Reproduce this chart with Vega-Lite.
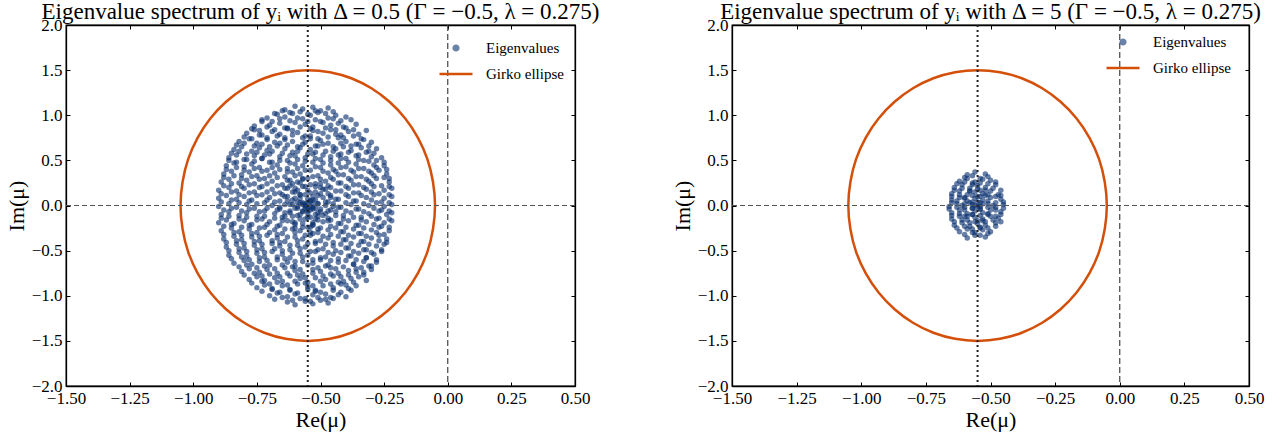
{
"$schema": "https://vega.github.io/schema/vega-lite/v6.json",
"background": "white",
"padding": {"left": 4, "top": 0, "right": 5, "bottom": 2},
"spacing": 69,
"resolve": {"scale": {"color": "independent", "x": "independent", "y": "independent"}, "legend": {"color": "independent"}},
"config": {
  "font": "Liberation Serif",
  "view": {"stroke": "black", "strokeWidth": 1.3},
  "title": {"font": "Liberation Serif", "fontSize": 23, "fontWeight": "normal", "color": "black", "anchor": "middle", "frame": "group"},
  "axis": {"labelFont": "Liberation Serif", "labelFontSize": 17, "titleFont": "Liberation Serif", "titleFontSize": 22, "titleFontWeight": "normal", "labelColor": "black", "titleColor": "black", "domainColor": "black", "tickColor": "black", "domainWidth": 1.3, "tickWidth": 1, "tickSize": -4, "grid": false, "labelPadding": 8, "labelFlush": false, "labelOverlap": false, "titlePadding": 3},
  "legend": {"labelFont": "Liberation Serif", "labelFontSize": 15, "labelColor": "black", "symbolSize": 1089, "labelOffset": 12, "rowPadding": -10, "padding": 0, "offset": 14, "orient": "top-right", "title": null}
},
"datasets": {
"ell": [{"i":0,"x":-0.05,"y":0},{"i":1,"x":-0.058,"y":0.26},{"i":2,"x":-0.08,"y":0.513},{"i":3,"x":-0.117,"y":0.75},{"i":4,"x":-0.167,"y":0.964},{"i":5,"x":-0.229,"y":1.149},{"i":6,"x":-0.3,"y":1.299},{"i":7,"x":-0.379,"y":1.41},{"i":8,"x":-0.463,"y":1.477},{"i":9,"x":-0.55,"y":1.5},{"i":10,"x":-0.637,"y":1.477},{"i":11,"x":-0.721,"y":1.41},{"i":12,"x":-0.8,"y":1.299},{"i":13,"x":-0.871,"y":1.149},{"i":14,"x":-0.933,"y":0.964},{"i":15,"x":-0.983,"y":0.75},{"i":16,"x":-1.02,"y":0.513},{"i":17,"x":-1.042,"y":0.26},{"i":18,"x":-1.05,"y":0},{"i":19,"x":-1.042,"y":-0.26},{"i":20,"x":-1.02,"y":-0.513},{"i":21,"x":-0.983,"y":-0.75},{"i":22,"x":-0.933,"y":-0.964},{"i":23,"x":-0.871,"y":-1.149},{"i":24,"x":-0.8,"y":-1.299},{"i":25,"x":-0.721,"y":-1.41},{"i":26,"x":-0.637,"y":-1.477},{"i":27,"x":-0.55,"y":-1.5},{"i":28,"x":-0.463,"y":-1.477},{"i":29,"x":-0.379,"y":-1.41},{"i":30,"x":-0.3,"y":-1.299},{"i":31,"x":-0.229,"y":-1.149},{"i":32,"x":-0.167,"y":-0.964},{"i":33,"x":-0.117,"y":-0.75},{"i":34,"x":-0.08,"y":-0.513},{"i":35,"x":-0.058,"y":-0.26}],
"left": [
{"x":-0.64,"y":1.06},{"x":-0.60,"y":1.10},{"x":-0.57,"y":1.07},{"x":-0.53,"y":1.09},{"x":-0.50,"y":1.05},{"x":-0.47,"y":1.08},
{"x":-0.71,"y":0.97},{"x":-0.67,"y":1.01},{"x":-0.64,"y":0.98},{"x":-0.61,"y":1.02},{"x":-0.57,"y":0.96},{"x":-0.54,"y":1.00},{"x":-0.51,"y":1.03},{"x":-0.47,"y":0.97},{"x":-0.44,"y":1.00},{"x":-0.40,"y":0.98},
{"x":-0.76,"y":0.88},{"x":-0.73,"y":0.93},{"x":-0.70,"y":0.89},{"x":-0.66,"y":0.91},{"x":-0.63,"y":0.86},{"x":-0.60,"y":0.92},{"x":-0.56,"y":0.90},{"x":-0.53,"y":0.87},{"x":-0.50,"y":0.93},{"x":-0.46,"y":0.89},{"x":-0.43,"y":0.91},{"x":-0.40,"y":0.86},{"x":-0.36,"y":0.90},
{"x":-0.79,"y":0.80},{"x":-0.76,"y":0.84},{"x":-0.73,"y":0.78},{"x":-0.69,"y":0.82},{"x":-0.66,"y":0.79},{"x":-0.63,"y":0.85},{"x":-0.59,"y":0.81},{"x":-0.56,"y":0.77},{"x":-0.53,"y":0.83},{"x":-0.49,"y":0.80},{"x":-0.46,"y":0.84},{"x":-0.42,"y":0.78},{"x":-0.39,"y":0.82},{"x":-0.35,"y":0.79},{"x":-0.32,"y":0.83},
{"x":-0.82,"y":0.71},{"x":-0.78,"y":0.74},{"x":-0.75,"y":0.69},{"x":-0.71,"y":0.73},{"x":-0.68,"y":0.70},{"x":-0.64,"y":0.75},{"x":-0.61,"y":0.71},{"x":-0.57,"y":0.68},{"x":-0.54,"y":0.74},{"x":-0.50,"y":0.72},{"x":-0.47,"y":0.69},{"x":-0.43,"y":0.75},{"x":-0.40,"y":0.71},{"x":-0.36,"y":0.68},{"x":-0.33,"y":0.73},{"x":-0.30,"y":0.70},
{"x":-0.84,"y":0.62},{"x":-0.81,"y":0.65},{"x":-0.77,"y":0.60},{"x":-0.74,"y":0.64},{"x":-0.71,"y":0.61},{"x":-0.67,"y":0.66},{"x":-0.64,"y":0.63},{"x":-0.61,"y":0.59},{"x":-0.58,"y":0.64},{"x":-0.54,"y":0.62},{"x":-0.51,"y":0.66},{"x":-0.48,"y":0.60},{"x":-0.44,"y":0.63},{"x":-0.41,"y":0.65},{"x":-0.38,"y":0.61},{"x":-0.34,"y":0.64},{"x":-0.31,"y":0.60},{"x":-0.28,"y":0.63},
{"x":-0.86,"y":0.53},{"x":-0.83,"y":0.56},{"x":-0.80,"y":0.51},{"x":-0.76,"y":0.55},{"x":-0.73,"y":0.52},{"x":-0.70,"y":0.57},{"x":-0.66,"y":0.54},{"x":-0.63,"y":0.50},{"x":-0.60,"y":0.55},{"x":-0.56,"y":0.53},{"x":-0.53,"y":0.57},{"x":-0.50,"y":0.51},{"x":-0.46,"y":0.54},{"x":-0.43,"y":0.56},{"x":-0.40,"y":0.52},{"x":-0.36,"y":0.55},{"x":-0.33,"y":0.50},{"x":-0.30,"y":0.54},{"x":-0.26,"y":0.53},
{"x":-0.87,"y":0.44},{"x":-0.84,"y":0.47},{"x":-0.80,"y":0.43},{"x":-0.77,"y":0.46},{"x":-0.74,"y":0.42},{"x":-0.70,"y":0.48},{"x":-0.67,"y":0.45},{"x":-0.63,"y":0.41},{"x":-0.60,"y":0.46},{"x":-0.57,"y":0.44},{"x":-0.53,"y":0.48},{"x":-0.50,"y":0.42},{"x":-0.46,"y":0.45},{"x":-0.43,"y":0.47},{"x":-0.40,"y":0.43},{"x":-0.36,"y":0.46},{"x":-0.33,"y":0.41},{"x":-0.29,"y":0.45},{"x":-0.25,"y":0.44},
{"x":-0.88,"y":0.35},{"x":-0.85,"y":0.38},{"x":-0.81,"y":0.34},{"x":-0.78,"y":0.37},{"x":-0.75,"y":0.33},{"x":-0.71,"y":0.39},{"x":-0.68,"y":0.36},{"x":-0.64,"y":0.32},{"x":-0.61,"y":0.37},{"x":-0.58,"y":0.35},{"x":-0.54,"y":0.39},{"x":-0.51,"y":0.33},{"x":-0.47,"y":0.36},{"x":-0.44,"y":0.38},{"x":-0.41,"y":0.34},{"x":-0.37,"y":0.37},{"x":-0.34,"y":0.32},{"x":-0.30,"y":0.36},{"x":-0.27,"y":0.39},{"x":-0.24,"y":0.35},
{"x":-0.89,"y":0.26},{"x":-0.86,"y":0.29},{"x":-0.82,"y":0.25},{"x":-0.79,"y":0.28},{"x":-0.76,"y":0.24},{"x":-0.72,"y":0.30},{"x":-0.69,"y":0.27},{"x":-0.65,"y":0.23},{"x":-0.62,"y":0.28},{"x":-0.59,"y":0.26},{"x":-0.55,"y":0.30},{"x":-0.52,"y":0.24},{"x":-0.48,"y":0.27},{"x":-0.45,"y":0.29},{"x":-0.42,"y":0.25},{"x":-0.38,"y":0.28},{"x":-0.35,"y":0.23},{"x":-0.31,"y":0.27},{"x":-0.28,"y":0.30},{"x":-0.23,"y":0.26},
{"x":-0.90,"y":0.17},{"x":-0.86,"y":0.20},{"x":-0.83,"y":0.16},{"x":-0.80,"y":0.19},{"x":-0.76,"y":0.15},{"x":-0.73,"y":0.21},{"x":-0.69,"y":0.18},{"x":-0.66,"y":0.14},{"x":-0.63,"y":0.19},{"x":-0.59,"y":0.17},{"x":-0.56,"y":0.21},{"x":-0.52,"y":0.15},{"x":-0.49,"y":0.18},{"x":-0.46,"y":0.20},{"x":-0.42,"y":0.16},{"x":-0.39,"y":0.19},{"x":-0.35,"y":0.14},{"x":-0.32,"y":0.18},{"x":-0.29,"y":0.21},{"x":-0.25,"y":0.17},{"x":-0.22,"y":0.19},
{"x":-0.90,"y":0.08},{"x":-0.87,"y":0.11},{"x":-0.83,"y":0.07},{"x":-0.80,"y":0.10},{"x":-0.77,"y":0.06},{"x":-0.73,"y":0.12},{"x":-0.70,"y":0.09},{"x":-0.66,"y":0.05},{"x":-0.63,"y":0.10},{"x":-0.60,"y":0.08},{"x":-0.56,"y":0.12},{"x":-0.53,"y":0.06},{"x":-0.49,"y":0.09},{"x":-0.46,"y":0.11},{"x":-0.43,"y":0.07},{"x":-0.39,"y":0.10},{"x":-0.36,"y":0.05},{"x":-0.32,"y":0.09},{"x":-0.29,"y":0.12},{"x":-0.25,"y":0.08},{"x":-0.22,"y":0.10},
{"x":-0.90,"y":-0.01},{"x":-0.86,"y":0.02},{"x":-0.83,"y":-0.02},{"x":-0.79,"y":0.01},{"x":-0.76,"y":-0.03},{"x":-0.72,"y":0.03},{"x":-0.69,"y":0.00},{"x":-0.66,"y":-0.04},{"x":-0.62,"y":0.01},{"x":-0.59,"y":-0.01},{"x":-0.55,"y":0.03},{"x":-0.52,"y":-0.03},{"x":-0.48,"y":0.00},{"x":-0.45,"y":0.02},{"x":-0.42,"y":-0.02},{"x":-0.38,"y":0.01},{"x":-0.35,"y":-0.04},{"x":-0.31,"y":0.00},{"x":-0.28,"y":0.03},{"x":-0.25,"y":-0.01},{"x":-0.22,"y":0.01},
{"x":-0.89,"y":-0.10},{"x":-0.86,"y":-0.07},{"x":-0.82,"y":-0.11},{"x":-0.79,"y":-0.08},{"x":-0.75,"y":-0.12},{"x":-0.72,"y":-0.06},{"x":-0.68,"y":-0.09},{"x":-0.65,"y":-0.13},{"x":-0.62,"y":-0.08},{"x":-0.58,"y":-0.10},{"x":-0.55,"y":-0.06},{"x":-0.51,"y":-0.12},{"x":-0.48,"y":-0.09},{"x":-0.44,"y":-0.07},{"x":-0.41,"y":-0.11},{"x":-0.38,"y":-0.08},{"x":-0.34,"y":-0.13},{"x":-0.31,"y":-0.09},{"x":-0.27,"y":-0.06},{"x":-0.24,"y":-0.10},{"x":-0.22,"y":-0.08},
{"x":-0.90,"y":-0.19},{"x":-0.87,"y":-0.16},{"x":-0.84,"y":-0.20},{"x":-0.80,"y":-0.17},{"x":-0.77,"y":-0.21},{"x":-0.73,"y":-0.15},{"x":-0.70,"y":-0.18},{"x":-0.66,"y":-0.22},{"x":-0.63,"y":-0.17},{"x":-0.60,"y":-0.19},{"x":-0.56,"y":-0.15},{"x":-0.53,"y":-0.21},{"x":-0.49,"y":-0.18},{"x":-0.46,"y":-0.16},{"x":-0.42,"y":-0.20},{"x":-0.39,"y":-0.17},{"x":-0.35,"y":-0.22},{"x":-0.32,"y":-0.18},{"x":-0.28,"y":-0.15},{"x":-0.25,"y":-0.19},{"x":-0.22,"y":-0.17},
{"x":-0.89,"y":-0.28},{"x":-0.85,"y":-0.25},{"x":-0.82,"y":-0.29},{"x":-0.78,"y":-0.26},{"x":-0.75,"y":-0.30},{"x":-0.72,"y":-0.24},{"x":-0.68,"y":-0.27},{"x":-0.65,"y":-0.31},{"x":-0.61,"y":-0.26},{"x":-0.58,"y":-0.28},{"x":-0.54,"y":-0.24},{"x":-0.51,"y":-0.30},{"x":-0.47,"y":-0.27},{"x":-0.44,"y":-0.25},{"x":-0.41,"y":-0.29},{"x":-0.37,"y":-0.26},{"x":-0.34,"y":-0.31},{"x":-0.30,"y":-0.27},{"x":-0.27,"y":-0.24},{"x":-0.23,"y":-0.28},
{"x":-0.88,"y":-0.37},{"x":-0.84,"y":-0.34},{"x":-0.81,"y":-0.38},{"x":-0.77,"y":-0.35},{"x":-0.74,"y":-0.39},{"x":-0.71,"y":-0.33},{"x":-0.67,"y":-0.36},{"x":-0.64,"y":-0.40},{"x":-0.60,"y":-0.35},{"x":-0.57,"y":-0.37},{"x":-0.54,"y":-0.33},{"x":-0.50,"y":-0.39},{"x":-0.47,"y":-0.36},{"x":-0.43,"y":-0.34},{"x":-0.40,"y":-0.38},{"x":-0.37,"y":-0.35},{"x":-0.33,"y":-0.40},{"x":-0.30,"y":-0.36},{"x":-0.27,"y":-0.33},{"x":-0.24,"y":-0.37},
{"x":-0.87,"y":-0.46},{"x":-0.83,"y":-0.43},{"x":-0.80,"y":-0.47},{"x":-0.76,"y":-0.44},{"x":-0.73,"y":-0.48},{"x":-0.69,"y":-0.42},{"x":-0.66,"y":-0.45},{"x":-0.62,"y":-0.49},{"x":-0.59,"y":-0.44},{"x":-0.56,"y":-0.46},{"x":-0.52,"y":-0.42},{"x":-0.49,"y":-0.48},{"x":-0.45,"y":-0.45},{"x":-0.42,"y":-0.43},{"x":-0.39,"y":-0.47},{"x":-0.35,"y":-0.44},{"x":-0.32,"y":-0.49},{"x":-0.28,"y":-0.45},{"x":-0.25,"y":-0.43},
{"x":-0.86,"y":-0.55},{"x":-0.82,"y":-0.52},{"x":-0.79,"y":-0.56},{"x":-0.75,"y":-0.53},{"x":-0.72,"y":-0.57},{"x":-0.69,"y":-0.51},{"x":-0.65,"y":-0.54},{"x":-0.62,"y":-0.58},{"x":-0.58,"y":-0.53},{"x":-0.55,"y":-0.55},{"x":-0.52,"y":-0.51},{"x":-0.48,"y":-0.57},{"x":-0.45,"y":-0.54},{"x":-0.42,"y":-0.52},{"x":-0.38,"y":-0.56},{"x":-0.35,"y":-0.53},{"x":-0.32,"y":-0.58},{"x":-0.29,"y":-0.54},{"x":-0.26,"y":-0.51},
{"x":-0.84,"y":-0.64},{"x":-0.80,"y":-0.61},{"x":-0.77,"y":-0.65},{"x":-0.74,"y":-0.62},{"x":-0.70,"y":-0.66},{"x":-0.67,"y":-0.60},{"x":-0.63,"y":-0.63},{"x":-0.60,"y":-0.67},{"x":-0.57,"y":-0.62},{"x":-0.53,"y":-0.64},{"x":-0.50,"y":-0.60},{"x":-0.47,"y":-0.66},{"x":-0.43,"y":-0.63},{"x":-0.40,"y":-0.61},{"x":-0.37,"y":-0.65},{"x":-0.33,"y":-0.62},{"x":-0.30,"y":-0.67},{"x":-0.28,"y":-0.63},
{"x":-0.81,"y":-0.73},{"x":-0.78,"y":-0.70},{"x":-0.74,"y":-0.74},{"x":-0.71,"y":-0.71},{"x":-0.67,"y":-0.75},{"x":-0.64,"y":-0.69},{"x":-0.60,"y":-0.72},{"x":-0.57,"y":-0.76},{"x":-0.53,"y":-0.71},{"x":-0.50,"y":-0.73},{"x":-0.46,"y":-0.69},{"x":-0.43,"y":-0.75},{"x":-0.39,"y":-0.72},{"x":-0.36,"y":-0.70},{"x":-0.33,"y":-0.74},{"x":-0.30,"y":-0.71},
{"x":-0.78,"y":-0.82},{"x":-0.75,"y":-0.79},{"x":-0.72,"y":-0.83},{"x":-0.68,"y":-0.80},{"x":-0.65,"y":-0.84},{"x":-0.62,"y":-0.78},{"x":-0.58,"y":-0.81},{"x":-0.55,"y":-0.85},{"x":-0.52,"y":-0.80},{"x":-0.48,"y":-0.82},{"x":-0.45,"y":-0.78},{"x":-0.41,"y":-0.84},{"x":-0.38,"y":-0.81},{"x":-0.35,"y":-0.79},{"x":-0.32,"y":-0.83},
{"x":-0.75,"y":-0.91},{"x":-0.72,"y":-0.88},{"x":-0.69,"y":-0.92},{"x":-0.65,"y":-0.89},{"x":-0.62,"y":-0.93},{"x":-0.59,"y":-0.87},{"x":-0.55,"y":-0.90},{"x":-0.52,"y":-0.94},{"x":-0.49,"y":-0.89},{"x":-0.45,"y":-0.91},{"x":-0.42,"y":-0.87},{"x":-0.39,"y":-0.92},{"x":-0.36,"y":-0.89},
{"x":-0.70,"y":-1.00},{"x":-0.67,"y":-0.97},{"x":-0.63,"y":-1.01},{"x":-0.60,"y":-0.98},{"x":-0.56,"y":-1.03},{"x":-0.53,"y":-0.99},{"x":-0.50,"y":-0.96},{"x":-0.46,"y":-1.02},{"x":-0.43,"y":-0.99},{"x":-0.40,"y":-1.01},
{"x":-0.63,"y":-1.07},{"x":-0.60,"y":-1.10},{"x":-0.56,"y":-1.06},{"x":-0.53,"y":-1.09},{"x":-0.50,"y":-1.05},{"x":-0.47,"y":-1.08},
{"x":-0.68,"y":1.02},{"x":-0.65,"y":1.05},{"x":-0.62,"y":1.03},{"x":-0.58,"y":1.04},{"x":-0.55,"y":1.01},{"x":-0.52,"y":1.05},{"x":-0.48,"y":1.02},{"x":-0.45,"y":1.04},
{"x":-0.73,"y":0.95},{"x":-0.69,"y":0.93},{"x":-0.66,"y":0.96},{"x":-0.62,"y":0.94},{"x":-0.59,"y":0.97},{"x":-0.55,"y":0.93},{"x":-0.52,"y":0.95},{"x":-0.49,"y":0.92},{"x":-0.45,"y":0.96},{"x":-0.42,"y":0.94},{"x":-0.38,"y":0.95},
{"x":-0.77,"y":0.85},{"x":-0.74,"y":0.83},{"x":-0.71,"y":0.87},{"x":-0.68,"y":0.84},{"x":-0.64,"y":0.86},{"x":-0.61,"y":0.83},{"x":-0.58,"y":0.87},{"x":-0.54,"y":0.85},{"x":-0.51,"y":0.82},{"x":-0.48,"y":0.86},{"x":-0.44,"y":0.84},{"x":-0.41,"y":0.87},{"x":-0.37,"y":0.84},
{"x":-0.80,"y":0.76},{"x":-0.77,"y":0.74},{"x":-0.74,"y":0.78},{"x":-0.71,"y":0.75},{"x":-0.67,"y":0.77},{"x":-0.64,"y":0.73},{"x":-0.61,"y":0.78},{"x":-0.57,"y":0.75},{"x":-0.54,"y":0.77},{"x":-0.51,"y":0.74},{"x":-0.47,"y":0.76},{"x":-0.44,"y":0.79},{"x":-0.41,"y":0.75},{"x":-0.37,"y":0.77},{"x":-0.34,"y":0.74},
{"x":-0.83,"y":0.67},{"x":-0.80,"y":0.69},{"x":-0.76,"y":0.66},{"x":-0.73,"y":0.68},{"x":-0.70,"y":0.65},{"x":-0.66,"y":0.69},{"x":-0.63,"y":0.67},{"x":-0.59,"y":0.65},{"x":-0.56,"y":0.70},{"x":-0.52,"y":0.66},{"x":-0.49,"y":0.68},{"x":-0.45,"y":0.65},{"x":-0.42,"y":0.69},{"x":-0.38,"y":0.66},{"x":-0.35,"y":0.68},{"x":-0.31,"y":0.66},
{"x":-0.85,"y":0.58},{"x":-0.82,"y":0.60},{"x":-0.79,"y":0.57},{"x":-0.75,"y":0.59},{"x":-0.72,"y":0.56},{"x":-0.69,"y":0.60},{"x":-0.65,"y":0.58},{"x":-0.62,"y":0.55},{"x":-0.59,"y":0.60},{"x":-0.55,"y":0.57},{"x":-0.52,"y":0.59},{"x":-0.49,"y":0.56},{"x":-0.45,"y":0.60},{"x":-0.42,"y":0.57},{"x":-0.39,"y":0.59},{"x":-0.35,"y":0.56},{"x":-0.32,"y":0.59},{"x":-0.29,"y":0.58},
{"x":-0.86,"y":0.50},{"x":-0.83,"y":0.48},{"x":-0.79,"y":0.51},{"x":-0.76,"y":0.49},{"x":-0.73,"y":0.52},{"x":-0.69,"y":0.48},{"x":-0.66,"y":0.50},{"x":-0.62,"y":0.47},{"x":-0.59,"y":0.51},{"x":-0.56,"y":0.49},{"x":-0.52,"y":0.52},{"x":-0.49,"y":0.47},{"x":-0.46,"y":0.50},{"x":-0.42,"y":0.52},{"x":-0.39,"y":0.48},{"x":-0.35,"y":0.51},{"x":-0.31,"y":0.49},{"x":-0.28,"y":0.50},{"x":-0.25,"y":0.48},
{"x":-0.87,"y":0.40},{"x":-0.83,"y":0.42},{"x":-0.80,"y":0.39},{"x":-0.76,"y":0.41},{"x":-0.73,"y":0.38},{"x":-0.69,"y":0.42},{"x":-0.66,"y":0.40},{"x":-0.63,"y":0.37},{"x":-0.59,"y":0.41},{"x":-0.56,"y":0.39},{"x":-0.52,"y":0.43},{"x":-0.49,"y":0.38},{"x":-0.45,"y":0.40},{"x":-0.42,"y":0.42},{"x":-0.38,"y":0.39},{"x":-0.35,"y":0.41},{"x":-0.31,"y":0.38},{"x":-0.28,"y":0.42},{"x":-0.24,"y":0.40},
{"x":-0.88,"y":0.31},{"x":-0.84,"y":0.33},{"x":-0.81,"y":0.30},{"x":-0.77,"y":0.32},{"x":-0.74,"y":0.29},{"x":-0.70,"y":0.33},{"x":-0.67,"y":0.31},{"x":-0.63,"y":0.28},{"x":-0.60,"y":0.33},{"x":-0.57,"y":0.30},{"x":-0.53,"y":0.32},{"x":-0.50,"y":0.29},{"x":-0.46,"y":0.31},{"x":-0.43,"y":0.34},{"x":-0.39,"y":0.30},{"x":-0.36,"y":0.32},{"x":-0.32,"y":0.29},{"x":-0.29,"y":0.33},{"x":-0.25,"y":0.31},{"x":-0.23,"y":0.30},
{"x":-0.88,"y":0.22},{"x":-0.85,"y":0.24},{"x":-0.81,"y":0.21},{"x":-0.78,"y":0.23},{"x":-0.74,"y":0.20},{"x":-0.71,"y":0.24},{"x":-0.67,"y":0.22},{"x":-0.64,"y":0.19},{"x":-0.61,"y":0.24},{"x":-0.57,"y":0.21},{"x":-0.54,"y":0.23},{"x":-0.50,"y":0.20},{"x":-0.47,"y":0.22},{"x":-0.43,"y":0.25},{"x":-0.40,"y":0.21},{"x":-0.37,"y":0.23},{"x":-0.33,"y":0.20},{"x":-0.30,"y":0.24},{"x":-0.26,"y":0.22},{"x":-0.23,"y":0.21},
{"x":-0.89,"y":0.13},{"x":-0.85,"y":0.15},{"x":-0.82,"y":0.12},{"x":-0.78,"y":0.14},{"x":-0.75,"y":0.11},{"x":-0.71,"y":0.15},{"x":-0.68,"y":0.13},{"x":-0.64,"y":0.10},{"x":-0.61,"y":0.15},{"x":-0.58,"y":0.12},{"x":-0.54,"y":0.14},{"x":-0.51,"y":0.11},{"x":-0.47,"y":0.13},{"x":-0.44,"y":0.16},{"x":-0.40,"y":0.12},{"x":-0.37,"y":0.14},{"x":-0.34,"y":0.11},{"x":-0.30,"y":0.15},{"x":-0.27,"y":0.13},{"x":-0.23,"y":0.12},
{"x":-0.89,"y":0.04},{"x":-0.85,"y":0.06},{"x":-0.82,"y":0.03},{"x":-0.78,"y":0.05},{"x":-0.75,"y":0.02},{"x":-0.71,"y":0.06},{"x":-0.68,"y":0.04},{"x":-0.64,"y":0.01},{"x":-0.61,"y":0.06},{"x":-0.58,"y":0.03},{"x":-0.54,"y":0.05},{"x":-0.51,"y":0.02},{"x":-0.47,"y":0.04},{"x":-0.44,"y":0.07},{"x":-0.40,"y":0.03},{"x":-0.37,"y":0.05},{"x":-0.33,"y":0.02},{"x":-0.30,"y":0.06},{"x":-0.26,"y":0.04},{"x":-0.23,"y":0.03},
{"x":-0.88,"y":-0.05},{"x":-0.85,"y":-0.03},{"x":-0.81,"y":-0.06},{"x":-0.78,"y":-0.04},{"x":-0.74,"y":-0.07},{"x":-0.71,"y":-0.03},{"x":-0.67,"y":-0.05},{"x":-0.64,"y":-0.08},{"x":-0.60,"y":-0.03},{"x":-0.57,"y":-0.06},{"x":-0.53,"y":-0.04},{"x":-0.50,"y":-0.07},{"x":-0.46,"y":-0.05},{"x":-0.43,"y":-0.02},{"x":-0.40,"y":-0.06},{"x":-0.36,"y":-0.04},{"x":-0.33,"y":-0.07},{"x":-0.29,"y":-0.03},{"x":-0.26,"y":-0.05},{"x":-0.23,"y":-0.06},
{"x":-0.89,"y":-0.14},{"x":-0.86,"y":-0.12},{"x":-0.82,"y":-0.15},{"x":-0.79,"y":-0.13},{"x":-0.75,"y":-0.16},{"x":-0.72,"y":-0.12},{"x":-0.68,"y":-0.14},{"x":-0.65,"y":-0.17},{"x":-0.61,"y":-0.12},{"x":-0.58,"y":-0.15},{"x":-0.54,"y":-0.13},{"x":-0.51,"y":-0.16},{"x":-0.47,"y":-0.14},{"x":-0.44,"y":-0.11},{"x":-0.41,"y":-0.15},{"x":-0.37,"y":-0.13},{"x":-0.34,"y":-0.16},{"x":-0.30,"y":-0.12},{"x":-0.27,"y":-0.14},{"x":-0.23,"y":-0.15},
{"x":-0.88,"y":-0.23},{"x":-0.85,"y":-0.21},{"x":-0.81,"y":-0.24},{"x":-0.78,"y":-0.22},{"x":-0.74,"y":-0.25},{"x":-0.71,"y":-0.21},{"x":-0.67,"y":-0.23},{"x":-0.64,"y":-0.26},{"x":-0.60,"y":-0.21},{"x":-0.57,"y":-0.24},{"x":-0.53,"y":-0.22},{"x":-0.50,"y":-0.25},{"x":-0.46,"y":-0.23},{"x":-0.43,"y":-0.20},{"x":-0.40,"y":-0.24},{"x":-0.36,"y":-0.22},{"x":-0.33,"y":-0.25},{"x":-0.29,"y":-0.21},{"x":-0.26,"y":-0.23},{"x":-0.23,"y":-0.24},
{"x":-0.88,"y":-0.32},{"x":-0.84,"y":-0.30},{"x":-0.81,"y":-0.33},{"x":-0.77,"y":-0.31},{"x":-0.74,"y":-0.34},{"x":-0.70,"y":-0.30},{"x":-0.67,"y":-0.32},{"x":-0.63,"y":-0.35},{"x":-0.60,"y":-0.30},{"x":-0.56,"y":-0.33},{"x":-0.53,"y":-0.31},{"x":-0.49,"y":-0.34},{"x":-0.46,"y":-0.32},{"x":-0.42,"y":-0.29},{"x":-0.39,"y":-0.33},{"x":-0.35,"y":-0.31},{"x":-0.32,"y":-0.34},{"x":-0.28,"y":-0.30},{"x":-0.25,"y":-0.32},
{"x":-0.87,"y":-0.41},{"x":-0.83,"y":-0.39},{"x":-0.80,"y":-0.42},{"x":-0.76,"y":-0.40},{"x":-0.73,"y":-0.43},{"x":-0.69,"y":-0.39},{"x":-0.66,"y":-0.41},{"x":-0.62,"y":-0.44},{"x":-0.59,"y":-0.39},{"x":-0.55,"y":-0.42},{"x":-0.52,"y":-0.40},{"x":-0.48,"y":-0.43},{"x":-0.45,"y":-0.41},{"x":-0.41,"y":-0.38},{"x":-0.38,"y":-0.42},{"x":-0.34,"y":-0.40},{"x":-0.31,"y":-0.43},{"x":-0.27,"y":-0.39},{"x":-0.24,"y":-0.41},
{"x":-0.86,"y":-0.50},{"x":-0.82,"y":-0.48},{"x":-0.79,"y":-0.51},{"x":-0.75,"y":-0.49},{"x":-0.72,"y":-0.52},{"x":-0.68,"y":-0.48},{"x":-0.65,"y":-0.50},{"x":-0.61,"y":-0.53},{"x":-0.58,"y":-0.48},{"x":-0.54,"y":-0.51},{"x":-0.51,"y":-0.49},{"x":-0.47,"y":-0.52},{"x":-0.44,"y":-0.50},{"x":-0.40,"y":-0.47},{"x":-0.37,"y":-0.51},{"x":-0.33,"y":-0.49},{"x":-0.30,"y":-0.52},{"x":-0.26,"y":-0.49},
{"x":-0.85,"y":-0.59},{"x":-0.81,"y":-0.57},{"x":-0.78,"y":-0.60},{"x":-0.74,"y":-0.58},{"x":-0.71,"y":-0.61},{"x":-0.67,"y":-0.57},{"x":-0.64,"y":-0.59},{"x":-0.60,"y":-0.62},{"x":-0.57,"y":-0.57},{"x":-0.53,"y":-0.60},{"x":-0.50,"y":-0.58},{"x":-0.46,"y":-0.61},{"x":-0.43,"y":-0.59},{"x":-0.39,"y":-0.56},{"x":-0.36,"y":-0.60},{"x":-0.32,"y":-0.58},{"x":-0.28,"y":-0.60},
{"x":-0.82,"y":-0.68},{"x":-0.79,"y":-0.66},{"x":-0.75,"y":-0.69},{"x":-0.72,"y":-0.67},{"x":-0.68,"y":-0.70},{"x":-0.65,"y":-0.66},{"x":-0.61,"y":-0.68},{"x":-0.58,"y":-0.71},{"x":-0.55,"y":-0.66},{"x":-0.51,"y":-0.69},{"x":-0.48,"y":-0.67},{"x":-0.44,"y":-0.70},{"x":-0.41,"y":-0.68},{"x":-0.37,"y":-0.65},{"x":-0.34,"y":-0.69},{"x":-0.31,"y":-0.67},
{"x":-0.80,"y":-0.77},{"x":-0.76,"y":-0.75},{"x":-0.73,"y":-0.78},{"x":-0.70,"y":-0.76},{"x":-0.66,"y":-0.79},{"x":-0.63,"y":-0.75},{"x":-0.59,"y":-0.77},{"x":-0.56,"y":-0.80},{"x":-0.53,"y":-0.75},{"x":-0.49,"y":-0.78},{"x":-0.46,"y":-0.76},{"x":-0.42,"y":-0.79},{"x":-0.39,"y":-0.77},{"x":-0.36,"y":-0.74},{"x":-0.33,"y":-0.77},
{"x":-0.77,"y":-0.86},{"x":-0.73,"y":-0.84},{"x":-0.70,"y":-0.87},{"x":-0.67,"y":-0.85},{"x":-0.63,"y":-0.88},{"x":-0.60,"y":-0.84},{"x":-0.56,"y":-0.86},{"x":-0.53,"y":-0.89},{"x":-0.50,"y":-0.84},{"x":-0.46,"y":-0.87},{"x":-0.43,"y":-0.85},{"x":-0.40,"y":-0.88},{"x":-0.37,"y":-0.85},
{"x":-0.73,"y":-0.95},{"x":-0.69,"y":-0.93},{"x":-0.66,"y":-0.96},{"x":-0.62,"y":-0.94},{"x":-0.59,"y":-0.97},{"x":-0.55,"y":-0.93},{"x":-0.52,"y":-0.95},{"x":-0.48,"y":-0.98},{"x":-0.45,"y":-0.94},{"x":-0.42,"y":-0.96},{"x":-0.38,"y":-0.94},
{"x":-0.68,"y":-1.04},{"x":-0.65,"y":-1.02},{"x":-0.61,"y":-1.05},{"x":-0.58,"y":-1.03},{"x":-0.54,"y":-1.06},{"x":-0.51,"y":-1.02},{"x":-0.48,"y":-1.04},{"x":-0.45,"y":-1.03},
{"x":-0.62,"y":0.22},{"x":-0.58,"y":0.25},{"x":-0.52,"y":0.21},{"x":-0.48,"y":0.18},{"x":-0.65,"y":0.12},{"x":-0.60,"y":0.15},{"x":-0.55,"y":0.17},{"x":-0.50,"y":0.13},{"x":-0.46,"y":0.09},{"x":-0.63,"y":0.05},{"x":-0.58,"y":0.08},{"x":-0.53,"y":0.10},{"x":-0.57,"y":0.03},{"x":-0.54,"y":0.05},{"x":-0.51,"y":0.02},{"x":-0.61,"y":0.01},{"x":-0.48,"y":0.04},{"x":-0.66,"y":-0.02},{"x":-0.59,"y":-0.03},{"x":-0.56,"y":-0.01},{"x":-0.53,"y":-0.02},{"x":-0.50,"y":-0.04},{"x":-0.45,"y":-0.01},{"x":-0.62,"y":-0.06},{"x":-0.57,"y":-0.07},{"x":-0.54,"y":-0.05},{"x":-0.51,"y":-0.08},{"x":-0.47,"y":-0.06},{"x":-0.64,"y":-0.12},{"x":-0.59,"y":-0.11},{"x":-0.55,"y":-0.13},{"x":-0.52,"y":-0.15},{"x":-0.49,"y":-0.11},{"x":-0.61,"y":-0.18},{"x":-0.57,"y":-0.20},{"x":-0.53,"y":-0.19},{"x":-0.47,"y":-0.17},{"x":-0.60,"y":-0.25},{"x":-0.55,"y":-0.24},{"x":-0.51,"y":-0.26},{"x":-0.56,"y":0.00},{"x":-0.55,"y":0.07},{"x":-0.55,"y":-0.09},{"x":-0.58,"y":0.12},{"x":-0.52,"y":-0.10},{"x":-0.60,"y":0.19},{"x":-0.50,"y":0.24},{"x":-0.57,"y":0.29},{"x":-0.54,"y":-0.30},{"x":-0.59,"y":0.04},{"x":-0.56,"y":-0.04},{"x":-0.52,"y":0.06},{"x":-0.57,"y":0.01},{"x":-0.54,"y":-0.01},{"x":-0.56,"y":0.02},{"x":-0.53,"y":0.01},{"x":-0.55,"y":-0.03}
],
"right": [
{"x":-0.59,"y":0.34},{"x":-0.56,"y":0.37},{"x":-0.52,"y":0.35},
{"x":-0.62,"y":0.27},{"x":-0.59,"y":0.30},{"x":-0.56,"y":0.26},{"x":-0.53,"y":0.29},{"x":-0.50,"y":0.28},
{"x":-0.64,"y":0.20},{"x":-0.61,"y":0.23},{"x":-0.58,"y":0.19},{"x":-0.55,"y":0.22},{"x":-0.52,"y":0.20},{"x":-0.48,"y":0.23},
{"x":-0.65,"y":0.13},{"x":-0.62,"y":0.16},{"x":-0.59,"y":0.12},{"x":-0.56,"y":0.15},{"x":-0.53,"y":0.13},{"x":-0.50,"y":0.16},{"x":-0.47,"y":0.12},
{"x":-0.65,"y":0.06},{"x":-0.62,"y":0.09},{"x":-0.59,"y":0.05},{"x":-0.56,"y":0.08},{"x":-0.53,"y":0.06},{"x":-0.50,"y":0.09},{"x":-0.46,"y":0.07},
{"x":-0.66,"y":-0.01},{"x":-0.63,"y":0.02},{"x":-0.60,"y":-0.02},{"x":-0.57,"y":0.01},{"x":-0.54,"y":-0.01},{"x":-0.51,"y":0.02},{"x":-0.48,"y":-0.02},{"x":-0.45,"y":0.01},
{"x":-0.65,"y":-0.08},{"x":-0.62,"y":-0.05},{"x":-0.59,"y":-0.09},{"x":-0.56,"y":-0.06},{"x":-0.53,"y":-0.08},{"x":-0.50,"y":-0.05},{"x":-0.46,"y":-0.07},
{"x":-0.65,"y":-0.15},{"x":-0.62,"y":-0.12},{"x":-0.59,"y":-0.16},{"x":-0.56,"y":-0.13},{"x":-0.53,"y":-0.15},{"x":-0.50,"y":-0.12},{"x":-0.47,"y":-0.14},
{"x":-0.64,"y":-0.22},{"x":-0.61,"y":-0.19},{"x":-0.58,"y":-0.23},{"x":-0.55,"y":-0.20},{"x":-0.52,"y":-0.22},{"x":-0.48,"y":-0.19},
{"x":-0.62,"y":-0.29},{"x":-0.59,"y":-0.26},{"x":-0.56,"y":-0.30},{"x":-0.53,"y":-0.27},{"x":-0.50,"y":-0.29},
{"x":-0.59,"y":-0.36},{"x":-0.56,"y":-0.33},{"x":-0.52,"y":-0.35},
{"x":-0.60,"y":0.31},{"x":-0.57,"y":0.33},{"x":-0.54,"y":0.30},{"x":-0.51,"y":0.32},
{"x":-0.63,"y":0.24},{"x":-0.60,"y":0.26},{"x":-0.57,"y":0.23},{"x":-0.54,"y":0.25},{"x":-0.51,"y":0.24},{"x":-0.48,"y":0.26},
{"x":-0.64,"y":0.17},{"x":-0.61,"y":0.19},{"x":-0.58,"y":0.16},{"x":-0.55,"y":0.18},{"x":-0.52,"y":0.17},{"x":-0.49,"y":0.19},{"x":-0.46,"y":0.17},
{"x":-0.65,"y":0.10},{"x":-0.62,"y":0.12},{"x":-0.60,"y":0.09},{"x":-0.57,"y":0.11},{"x":-0.54,"y":0.10},{"x":-0.51,"y":0.12},{"x":-0.48,"y":0.10},{"x":-0.46,"y":0.11},
{"x":-0.65,"y":0.03},{"x":-0.63,"y":0.05},{"x":-0.60,"y":0.02},{"x":-0.57,"y":0.04},{"x":-0.54,"y":0.03},{"x":-0.51,"y":0.05},{"x":-0.48,"y":0.03},{"x":-0.45,"y":0.04},
{"x":-0.66,"y":-0.04},{"x":-0.63,"y":-0.02},{"x":-0.60,"y":-0.05},{"x":-0.57,"y":-0.03},{"x":-0.54,"y":-0.04},{"x":-0.51,"y":-0.02},{"x":-0.48,"y":-0.05},{"x":-0.45,"y":-0.03},
{"x":-0.65,"y":-0.11},{"x":-0.62,"y":-0.09},{"x":-0.60,"y":-0.12},{"x":-0.57,"y":-0.10},{"x":-0.54,"y":-0.11},{"x":-0.51,"y":-0.09},{"x":-0.48,"y":-0.12},{"x":-0.46,"y":-0.10},
{"x":-0.64,"y":-0.18},{"x":-0.61,"y":-0.16},{"x":-0.58,"y":-0.19},{"x":-0.55,"y":-0.17},{"x":-0.52,"y":-0.18},{"x":-0.49,"y":-0.16},{"x":-0.46,"y":-0.18},
{"x":-0.63,"y":-0.25},{"x":-0.60,"y":-0.23},{"x":-0.57,"y":-0.26},{"x":-0.54,"y":-0.24},{"x":-0.51,"y":-0.25},{"x":-0.48,"y":-0.23},
{"x":-0.60,"y":-0.32},{"x":-0.57,"y":-0.30},{"x":-0.54,"y":-0.33},{"x":-0.51,"y":-0.31},
{"x":-0.58,"y":0.03},{"x":-0.55,"y":0.04},{"x":-0.53,"y":0.02},{"x":-0.57,"y":-0.03},{"x":-0.54,"y":-0.04},{"x":-0.56,"y":0.00},{"x":-0.55,"y":0.10},{"x":-0.57,"y":-0.10},{"x":-0.54,"y":0.17},{"x":-0.56,"y":-0.18},{"x":-0.60,"y":0.08},{"x":-0.51,"y":-0.10},{"x":-0.52,"y":0.11},{"x":-0.59,"y":-0.12},{"x":-0.55,"y":-0.01},{"x":-0.58,"y":0.16},{"x":-0.53,"y":-0.17},{"x":-0.57,"y":0.25},{"x":-0.54,"y":-0.25},{"x":-0.61,"y":0.00},{"x":-0.49,"y":0.00}
]
},
"hconcat": [
{
  "width": 509, "height": 361,
  "title": {"text": "Eigenvalue spectrum of yᵢ with Δ = 0.5 (Γ = −0.5, λ = 0.275)", "offset": -8},
  "resolve": {"axis": {"x": "independent", "y": "independent"}},
  "layer": [
    {"data": {"name": "left"},
     "mark": {"type": "circle", "size": 30, "opacity": 0.62},
     "encoding": {
       "x": {"field": "x", "type": "quantitative", "scale": {"domain": [-1.5, 0.5], "nice": false, "zero": false}, "axis": {"values": [-1.5,-1.25,-1,-0.75,-0.5,-0.25,0,0.25,0.5], "format": ".2f", "title": "Re(μ)"}},
       "y": {"field": "y", "type": "quantitative", "scale": {"domain": [-2, 2], "nice": false, "zero": false}, "axis": {"values": [-2,-1.5,-1,-0.5,0,0.5,1,1.5,2], "format": ".1f", "title": "Im(μ)"}},
       "color": {"datum": "Eigenvalues", "type": "nominal", "scale": {"domain": ["Eigenvalues", "Girko ellipse"], "range": ["#0a3170", "#d4500a"]},
         "legend": {"orient": "none", "legendX": 372, "legendY": 5, "encode": {"symbols": {"update": {
           "shape": {"signal": "datum.value === 'Eigenvalues' ? 'circle' : 'stroke'"},
           "size": {"signal": "datum.value === 'Eigenvalues' ? 22 : 1089"},
           "fill": {"signal": "datum.value === 'Eigenvalues' ? '#0a3170' : 'transparent'"},
           "stroke": {"signal": "datum.value === 'Eigenvalues' ? 'transparent' : '#d4500a'"},
           "strokeWidth": {"value": 2.5},
           "opacity": {"signal": "datum.value === 'Eigenvalues' ? 0.6 : 1"}}}}}}
     }},
    {"data": {"name": "ell"},
     "mark": {"type": "line", "interpolate": "cardinal-closed", "strokeWidth": 2.5},
     "encoding": {
       "x": {"field": "x", "type": "quantitative", "axis": null},
       "y": {"field": "y", "type": "quantitative", "axis": null},
       "order": {"field": "i", "type": "quantitative"},
       "color": {"datum": "Girko ellipse", "type": "nominal",
         "legend": {"orient": "none", "legendX": 372, "legendY": 5, "encode": {"symbols": {"update": {
           "shape": {"signal": "datum.value === 'Eigenvalues' ? 'circle' : 'stroke'"},
           "size": {"signal": "datum.value === 'Eigenvalues' ? 22 : 1089"},
           "fill": {"signal": "datum.value === 'Eigenvalues' ? '#0a3170' : 'transparent'"},
           "stroke": {"signal": "datum.value === 'Eigenvalues' ? 'transparent' : '#d4500a'"},
           "strokeWidth": {"value": 2.5},
           "opacity": {"signal": "datum.value === 'Eigenvalues' ? 0.6 : 1"}}}}}}
     }},
    {"data": {"values": [{}]},
     "mark": {"type": "rule", "color": "#555555", "strokeDash": [5, 3], "strokeWidth": 1},
     "encoding": {"y": {"datum": 0, "type": "quantitative", "axis": {"orient": "right", "labels": false, "title": null, "values": [-2,-1.5,-1,-0.5,0,0.5,1,1.5,2]}}}},
    {"data": {"values": [{}]},
     "mark": {"type": "rule", "color": "#444444", "strokeDash": [6, 3], "strokeWidth": 1.2},
     "encoding": {"x": {"datum": 0, "type": "quantitative", "axis": {"orient": "top", "labels": false, "title": null, "values": [-1.5,-1.25,-1,-0.75,-0.5,-0.25,0,0.25,0.5]}}}},
    {"data": {"values": [{}]},
     "mark": {"type": "rule", "color": "#222222", "strokeDash": [2, 3], "strokeWidth": 2},
     "encoding": {"x": {"datum": -0.55, "type": "quantitative", "axis": null}}}
  ]
},
{
  "width": 517, "height": 361,
  "title": {"text": "Eigenvalue spectrum of yᵢ with Δ = 5 (Γ = −0.5, λ = 0.275)", "offset": -8},
  "resolve": {"axis": {"x": "independent", "y": "independent"}},
  "layer": [
    {"data": {"name": "right"},
     "mark": {"type": "circle", "size": 30, "opacity": 0.62},
     "encoding": {
       "x": {"field": "x", "type": "quantitative", "scale": {"domain": [-1.5, 0.5], "nice": false, "zero": false}, "axis": {"values": [-1.5,-1.25,-1,-0.75,-0.5,-0.25,0,0.25,0.5], "format": ".2f", "title": "Re(μ)"}},
       "y": {"field": "y", "type": "quantitative", "scale": {"domain": [-2, 2], "nice": false, "zero": false}, "axis": {"values": [-2,-1.5,-1,-0.5,0,0.5,1,1.5,2], "format": ".1f", "title": "Im(μ)"}},
       "color": {"datum": "Eigenvalues", "type": "nominal", "scale": {"domain": ["Eigenvalues", "Girko ellipse"], "range": ["#0a3170", "#d4500a"]},
         "legend": {"orient": "none", "legendX": 373, "legendY": -1, "encode": {"symbols": {"update": {
           "shape": {"signal": "datum.value === 'Eigenvalues' ? 'circle' : 'stroke'"},
           "size": {"signal": "datum.value === 'Eigenvalues' ? 22 : 1089"},
           "fill": {"signal": "datum.value === 'Eigenvalues' ? '#0a3170' : 'transparent'"},
           "stroke": {"signal": "datum.value === 'Eigenvalues' ? 'transparent' : '#d4500a'"},
           "strokeWidth": {"value": 2.5},
           "opacity": {"signal": "datum.value === 'Eigenvalues' ? 0.6 : 1"}}}}}}
     }},
    {"data": {"name": "ell"},
     "mark": {"type": "line", "interpolate": "cardinal-closed", "strokeWidth": 2.5},
     "encoding": {
       "x": {"field": "x", "type": "quantitative", "axis": null},
       "y": {"field": "y", "type": "quantitative", "axis": null},
       "order": {"field": "i", "type": "quantitative"},
       "color": {"datum": "Girko ellipse", "type": "nominal",
         "legend": {"orient": "none", "legendX": 373, "legendY": -1, "encode": {"symbols": {"update": {
           "shape": {"signal": "datum.value === 'Eigenvalues' ? 'circle' : 'stroke'"},
           "size": {"signal": "datum.value === 'Eigenvalues' ? 22 : 1089"},
           "fill": {"signal": "datum.value === 'Eigenvalues' ? '#0a3170' : 'transparent'"},
           "stroke": {"signal": "datum.value === 'Eigenvalues' ? 'transparent' : '#d4500a'"},
           "strokeWidth": {"value": 2.5},
           "opacity": {"signal": "datum.value === 'Eigenvalues' ? 0.6 : 1"}}}}}}
     }},
    {"data": {"values": [{}]},
     "mark": {"type": "rule", "color": "#555555", "strokeDash": [5, 3], "strokeWidth": 1},
     "encoding": {"y": {"datum": 0, "type": "quantitative", "axis": {"orient": "right", "labels": false, "title": null, "values": [-2,-1.5,-1,-0.5,0,0.5,1,1.5,2]}}}},
    {"data": {"values": [{}]},
     "mark": {"type": "rule", "color": "#444444", "strokeDash": [6, 3], "strokeWidth": 1.2},
     "encoding": {"x": {"datum": 0, "type": "quantitative", "axis": {"orient": "top", "labels": false, "title": null, "values": [-1.5,-1.25,-1,-0.75,-0.5,-0.25,0,0.25,0.5]}}}},
    {"data": {"values": [{}]},
     "mark": {"type": "rule", "color": "#222222", "strokeDash": [2, 3], "strokeWidth": 2},
     "encoding": {"x": {"datum": -0.55, "type": "quantitative", "axis": null}}}
  ]
}
]
}
